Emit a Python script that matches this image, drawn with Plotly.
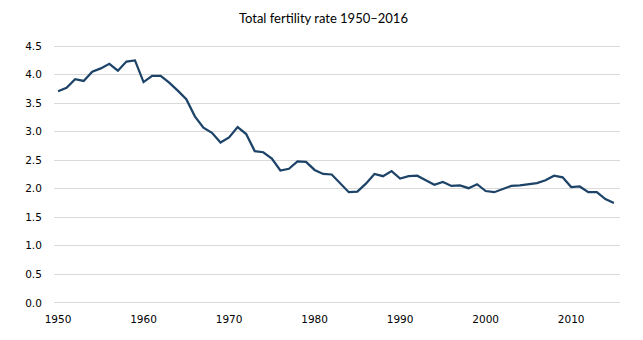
import plotly.graph_objects as go

years = list(range(1950, 2016))
tfr = [3.71, 3.77, 3.92, 3.89, 4.05, 4.11, 4.19, 4.07, 4.23, 4.25,
       3.87, 3.98, 3.98, 3.86, 3.72, 3.57, 3.27, 3.07, 2.98, 2.81,
       2.90, 3.08, 2.96, 2.66, 2.64, 2.53, 2.32, 2.35, 2.48, 2.47,
       2.33, 2.26, 2.25, 2.10, 1.94, 1.95, 2.09, 2.26, 2.22, 2.31,
       2.18, 2.22, 2.23, 2.15, 2.07, 2.12, 2.05, 2.06, 2.01, 2.08,
       1.96, 1.94, 1.99, 2.05, 2.06, 2.08, 2.10, 2.15, 2.23, 2.20,
       2.03, 2.04, 1.94, 1.94, 1.82, 1.75]
x_ticks = [1950, 1960, 1970, 1980, 1990, 2000, 2010]
y_ticks = [0.0, 0.5, 1.0, 1.5, 2.0, 2.5, 3.0, 3.5, 4.0, 4.5]
title = "Total fertility rate 1950–2016"

fig = go.Figure(go.Scatter(
    x=years, y=tfr, mode="lines",
    line=dict(color="#1d4468", width=2.25),
    hoverinfo="skip",
))

fig.update_layout(
    width=643, height=340,
    margin=dict(l=53.5, r=23, t=44.6, b=36.2, pad=0),
    paper_bgcolor="white", plot_bgcolor="white",
    showlegend=False,
    title=dict(text=title, x=0.503, xanchor="center", y=0.947, yanchor="middle",
               font=dict(family="Lato, Open Sans, sans-serif", size=13, color="#000000")),
    font=dict(family="DejaVu Sans, Verdana, sans-serif", size=10.5, color="#000000"),
)
fig.update_xaxes(
    range=[1949.53, 2015.71], tickmode="array", tickvals=x_ticks,
    ticktext=[str(v) for v in x_ticks],
    showgrid=False, zeroline=False, showline=False,
    ticks="outside", ticklen=5, tickcolor="rgba(0,0,0,0)",
)
fig.update_yaxes(
    range=[-0.02, 4.52], tickmode="array", tickvals=y_ticks,
    ticktext=[f"{v:.1f}" for v in y_ticks],
    showgrid=True, gridcolor="#d9d9d9", gridwidth=1,
    zeroline=False, showline=False,
    ticks="outside", ticklen=9, tickcolor="rgba(0,0,0,0)",
)

fig.write_html("out.html")
